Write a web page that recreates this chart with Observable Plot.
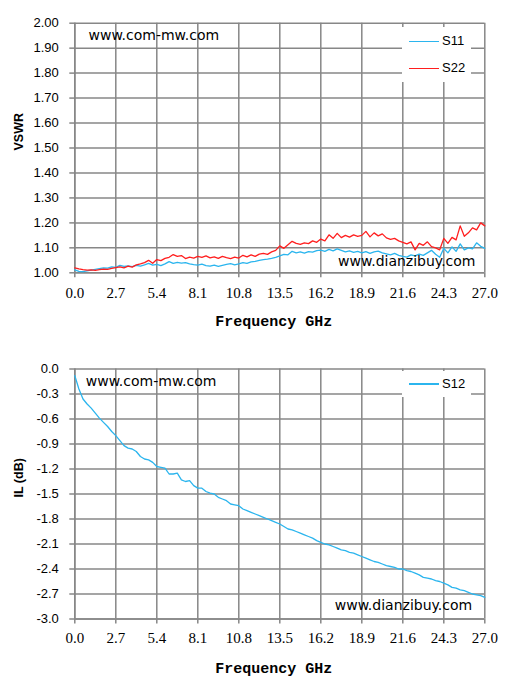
<!DOCTYPE html>
<html>
<head>
<meta charset="utf-8">
<script src="https://cdn.jsdelivr.net/npm/d3@7"></script>
<script src="https://cdn.jsdelivr.net/npm/@observablehq/plot@0.6"></script>
<style>
  html, body { margin: 0; padding: 0; background: #fff; }
  #wrap { position: relative; width: 513px; height: 693px; overflow: hidden; }
  #wrap svg { display: block; }
  #wrap g[aria-label="x-axis tick label"] { font-family: "Liberation Serif", serif; font-size: 15px; }
  #wrap g[aria-label="y-axis tick label"] { font-family: "Liberation Sans", sans-serif; font-size: 13px; }
  #wrap g.xtitle { font-family: "Liberation Mono", monospace; font-weight: bold; font-size: 15px; }
  .legend { position: absolute; background: #fff; font-family: "Liberation Sans", sans-serif; font-size: 13px; color: #000; }
  .legend .ln { position: absolute; height: 1.3px; width: 30px; }
  .legend .tx { position: absolute; line-height: 16px; }
</style>
</head>
<body>
<div id="wrap"></div>
<script>
// ---- data ----
const freqStep = 0.27; // GHz between samples, 0 .. 27 GHz
const xTicks = [0, 2.7, 5.4, 8.1, 10.8, 13.5, 16.2, 18.9, 21.6, 24.3, 27.0];
const vswrTicks = [1.0, 1.1, 1.2, 1.3, 1.4, 1.5, 1.6, 1.7, 1.8, 1.9, 2.0];
const ilTicks = [0, -0.3, -0.6, -0.9, -1.2, -1.5, -1.8, -2.1, -2.4, -2.7, -3.0];

const s11 = [
  1.012, 1.006, 1.005, 1.008, 1.011, 1.014, 1.017, 1.020, 1.019, 1.024,
  1.022, 1.030, 1.026, 1.028, 1.025, 1.030, 1.027, 1.032, 1.038, 1.031,
  1.034, 1.029, 1.036, 1.045, 1.038, 1.042, 1.039, 1.041, 1.036, 1.033,
  1.031, 1.035, 1.029, 1.027, 1.031, 1.026, 1.030, 1.034, 1.037, 1.032,
  1.036, 1.041, 1.038, 1.044, 1.046, 1.050, 1.053, 1.055, 1.058, 1.062,
  1.068, 1.074, 1.072, 1.086, 1.080, 1.084, 1.079, 1.085, 1.083, 1.089,
  1.091, 1.086, 1.094, 1.088, 1.096, 1.090, 1.084, 1.088, 1.082, 1.086,
  1.080, 1.085, 1.078, 1.084, 1.087, 1.080, 1.076, 1.072, 1.078, 1.070,
  1.066, 1.063, 1.072, 1.068, 1.075, 1.070, 1.080, 1.090, 1.074, 1.062,
  1.098, 1.080, 1.104, 1.086, 1.116, 1.092, 1.100, 1.096, 1.120, 1.106,
  1.098
];
const s22 = [
  1.020, 1.016, 1.013, 1.011, 1.012, 1.010, 1.013, 1.015, 1.014, 1.018,
  1.021, 1.024, 1.020, 1.027, 1.023, 1.032, 1.036, 1.041, 1.050, 1.038,
  1.053, 1.049, 1.058, 1.062, 1.073, 1.066, 1.069, 1.057, 1.063, 1.059,
  1.066, 1.062, 1.068, 1.060, 1.064, 1.058, 1.066, 1.061, 1.057, 1.063,
  1.059, 1.070, 1.064, 1.072, 1.066, 1.075, 1.078, 1.074, 1.084, 1.090,
  1.108, 1.098, 1.112, 1.126, 1.118, 1.114, 1.120, 1.117, 1.128, 1.122,
  1.135, 1.128, 1.152, 1.138, 1.158, 1.141, 1.150, 1.143, 1.152, 1.146,
  1.150, 1.166, 1.144, 1.160, 1.148, 1.156, 1.140, 1.134, 1.138, 1.128,
  1.122, 1.116, 1.124, 1.092, 1.118, 1.110, 1.124, 1.105, 1.100, 1.092,
  1.138, 1.118, 1.142, 1.132, 1.188, 1.146, 1.160, 1.180, 1.172, 1.200,
  1.188
];
const s12 = [
  -0.08, -0.24, -0.36, -0.42, -0.47, -0.53, -0.59, -0.64, -0.69, -0.75,
  -0.80, -0.86, -0.92, -0.95, -0.96, -0.99, -1.05, -1.08, -1.09, -1.12,
  -1.17, -1.18, -1.19, -1.26, -1.26, -1.25, -1.33, -1.35, -1.34, -1.40,
  -1.43, -1.43, -1.47, -1.49, -1.50, -1.54, -1.56, -1.58, -1.62, -1.63,
  -1.64, -1.68, -1.70, -1.72, -1.74, -1.76, -1.78, -1.80, -1.82, -1.84,
  -1.86, -1.89, -1.92, -1.93, -1.95, -1.97, -1.99, -2.01, -2.03, -2.06,
  -2.08, -2.10, -2.11, -2.13, -2.15, -2.17, -2.18, -2.20, -2.21, -2.23,
  -2.25, -2.27, -2.29, -2.31, -2.32, -2.34, -2.36, -2.37, -2.38, -2.40,
  -2.40, -2.42, -2.43, -2.45, -2.47, -2.50, -2.51, -2.52, -2.54, -2.55,
  -2.57, -2.59, -2.62, -2.63, -2.65, -2.66, -2.68, -2.70, -2.71, -2.72,
  -2.74
];

const blue = "#2bb5ee";
const red = "#ff1e1e";
const gridColor = "#878787";

const rows = (vals) => vals.map((v, i) => ({f: +(i * freqStep).toFixed(2), v}));

const common = {
  width: 513,
  marginLeft: 74.3,
  marginRight: 28.7,
  style: {background: "#fff", overflow: "visible"}
};

function xAxisParts(padding) {
  return [
    Plot.gridX(xTicks, {stroke: gridColor, strokeOpacity: 1, strokeWidth: 1.5}),
    Plot.axisX({ticks: xTicks, tickSize: 5, tickPadding: padding, stroke: gridColor, strokeWidth: 1.5,
      tickFormat: d => d.toFixed(1), fontFamily: "Liberation Serif", fontSize: 15, fill: "#000", label: null})
  ];
}

// ---- chart 1: VSWR ----
const chart1 = Plot.plot({
  ...common,
  height: 346,
  marginTop: 22.7,
  marginBottom: 73.7,
  x: {domain: [0, 27]},
  y: {domain: [1, 2]},
  marks: [
    Plot.gridY(vswrTicks, {stroke: gridColor, strokeOpacity: 1, strokeWidth: 1.5}),
    ...xAxisParts(10),
    Plot.axisY({ticks: vswrTicks, tickSize: 5, tickPadding: 11, stroke: gridColor, strokeWidth: 1.5,
      tickFormat: d => d.toFixed(2), fontFamily: "Liberation Sans", fontSize: 13, fill: "#000", label: null}),
    Plot.ruleX([0], {stroke: gridColor, strokeWidth: 1.5}),
    Plot.ruleY([1], {stroke: gridColor, strokeWidth: 1.5}),
    Plot.line(rows(s11), {x: "f", y: "v", stroke: blue, strokeWidth: 1.3}),
    Plot.line(rows(s22), {x: "f", y: "v", stroke: red, strokeWidth: 1.3}),
    Plot.text(["www.com-mw.com"], {frameAnchor: "top-left", textAnchor: "start", lineAnchor: "bottom",
      dx: 13.7, dy: 16.6, fontFamily: "DejaVu Sans", fontSize: 14, fill: "#000"}),
    Plot.text(["www.dianzibuy.com"], {frameAnchor: "bottom-right", textAnchor: "end", lineAnchor: "bottom",
      dx: -9.3, dy: -6.6, fontFamily: "DejaVu Sans", fontSize: 14, fill: "#000"}),
    Plot.text(["VSWR"], {frameAnchor: "left", rotate: -90, dx: -56, dy: 2.5, lineAnchor: "middle",
      fontFamily: "Liberation Sans", fontWeight: "bold", fontSize: 12.5, fill: "#000"}),
    Plot.text(["Frequency GHz"], {frameAnchor: "bottom", dx: -6, dy: 48, lineAnchor: "middle", className: "xtitle",
      fontFamily: "Liberation Mono", fontWeight: "bold", fontSize: 15, fill: "#000"})
  ]
});

// ---- chart 2: IL ----
const chart2 = Plot.plot({
  ...common,
  height: 347,
  marginTop: 22.5,
  marginBottom: 74.5,
  x: {domain: [0, 27]},
  y: {domain: [-3, 0]},
  marks: [
    Plot.gridY(ilTicks, {stroke: gridColor, strokeOpacity: 1, strokeWidth: 1.5}),
    ...xAxisParts(8),
    Plot.axisY({ticks: ilTicks, tickSize: 5, tickPadding: 11, stroke: gridColor, strokeWidth: 1.5,
      tickFormat: d => d.toFixed(1), fontFamily: "Liberation Sans", fontSize: 13, fill: "#000", label: null}),
    Plot.ruleX([0], {stroke: gridColor, strokeWidth: 1.5}),
    Plot.ruleY([-3], {stroke: gridColor, strokeWidth: 1.5}),
    Plot.line(rows(s12), {x: "f", y: "v", stroke: blue, strokeWidth: 1.3}),
    Plot.text(["www.com-mw.com"], {frameAnchor: "top-left", textAnchor: "start", lineAnchor: "bottom",
      dx: 11, dy: 16.5, fontFamily: "DejaVu Sans", fontSize: 14, fill: "#000"}),
    Plot.text(["www.dianzibuy.com"], {frameAnchor: "bottom-right", textAnchor: "end", lineAnchor: "bottom",
      dx: -12.6, dy: -9.5, fontFamily: "DejaVu Sans", fontSize: 14, fill: "#000"}),
    Plot.text(["IL (dB)"], {frameAnchor: "left", rotate: -90, dx: -56, dy: 3.5, lineAnchor: "middle",
      fontFamily: "Liberation Sans", fontWeight: "bold", fontSize: 12.5, fill: "#000"}),
    Plot.text(["Frequency GHz"], {frameAnchor: "bottom", dx: -6, dy: 49.5, lineAnchor: "middle", className: "xtitle",
      fontFamily: "Liberation Mono", fontWeight: "bold", fontSize: 15, fill: "#000"})
  ]
});

const wrap = document.getElementById("wrap");
wrap.appendChild(chart1);
wrap.appendChild(chart2);

// ---- legends ----
function legend(top, height, items) {
  const box = document.createElement("div");
  box.className = "legend";
  box.style.left = "402px";
  box.style.top = top + "px";
  box.style.width = "69px";
  box.style.height = height + "px";
  for (const it of items) {
    const ln = document.createElement("div");
    ln.className = "ln";
    ln.style.left = "7px";
    ln.style.top = (it.y - 0.65) + "px";
    ln.style.background = it.color;
    box.appendChild(ln);
    const tx = document.createElement("div");
    tx.className = "tx";
    tx.style.left = "40px";
    tx.style.top = (it.y - 8) + "px";
    tx.textContent = it.name;
    box.appendChild(tx);
  }
  wrap.appendChild(box);
}
legend(27, 55, [{name: "S11", color: blue, y: 14.3}, {name: "S22", color: red, y: 41.3}]);
legend(371, 26, [{name: "S12", color: blue, y: 13}]);
</script>
</body>
</html>
